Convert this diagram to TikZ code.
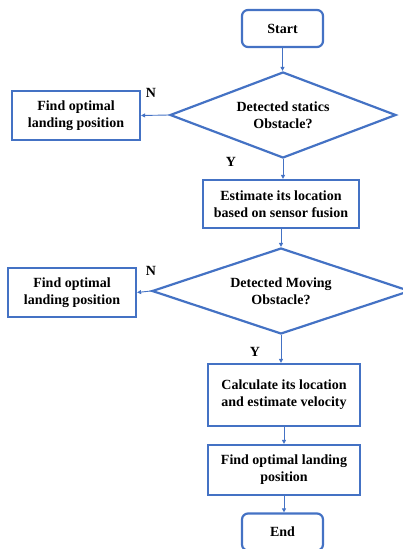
\documentclass[tikz,border=0pt]{standalone}
\usepackage{fontspec}
\setmainfont{Liberation Serif}
\usetikzlibrary{shapes.geometric,arrows.meta}
\definecolor{flowblue}{RGB}{68,114,196}

\begin{document}
\begin{tikzpicture}[x=1pt, y=-1pt,
  every node/.style={font=\fontsize{14}{17}\selectfont\bfseries, inner sep=0pt},
  flowbox/.style={draw=flowblue, line width=2.2pt, align=center},
  terminal/.style={flowbox, rounded corners=6pt, minimum width=81pt, minimum height=37pt},
  decision/.style={flowbox, diamond, aspect=2.6},
  flowarrow/.style={draw=flowblue, line width=0.9pt, -{Triangle[length=4pt,width=4pt]}}]

  \useasboundingbox (0,0) rectangle (403,549);

  % main column
  \node[terminal] (start) at (282.5,28.5) {Start};
  \node[decision, minimum width=226pt, minimum height=86pt] (statics) at (283,115)
    {Detected statics\\Obstacle?};
  \node[flowbox, minimum width=156pt, minimum height=48pt] (fusion) at (281,204)
    {Estimate its location\\based on sensor fusion};
  \node[decision, minimum width=258pt, minimum height=86pt] (moving) at (281,291)
    {Detected Moving\\Obstacle?};
  \node[flowbox, minimum width=152pt, minimum height=62pt] (velocity) at (284,395)
    {Calculate its location\\and estimate velocity};
  \node[flowbox, minimum width=152pt, minimum height=50pt] (landing) at (284,470)
    {Find optimal landing\\position};
  \node[terminal] (end) at (282.5,532) {End};

  % side boxes
  \node[flowbox, minimum width=128pt, minimum height=49pt] (landA) at (76,115.5)
    {Find optimal\\landing position};
  \node[flowbox, minimum width=128pt, minimum height=49pt] (landB) at (72,292.5)
    {Find optimal\\landing position};

  % labels
  \node (noA) at (151,93) {N};
  \node (yesA) at (231,162) {Y};
  \node (noB) at (151,271) {N};
  \node (yesB) at (255,352) {Y};

  % connectors
  \draw[flowarrow] (start.south) -- (start.south |- statics.north);
  \draw[flowarrow] (statics.west) -- (landA.east);
  \draw[flowarrow] (statics.south) -- (statics.south |- fusion.north);
  \draw[flowarrow] (fusion.south) -- (fusion.south |- moving.north);
  \draw[flowarrow] (moving.west) -- (landB.east);
  \draw[flowarrow] (moving.south) -- (moving.south |- velocity.north);
  \draw[flowarrow] (velocity.south) -- (velocity.south |- landing.north);
  \draw[flowarrow] (landing.south) -- (landing.south |- end.north);
\end{tikzpicture}
\end{document}
